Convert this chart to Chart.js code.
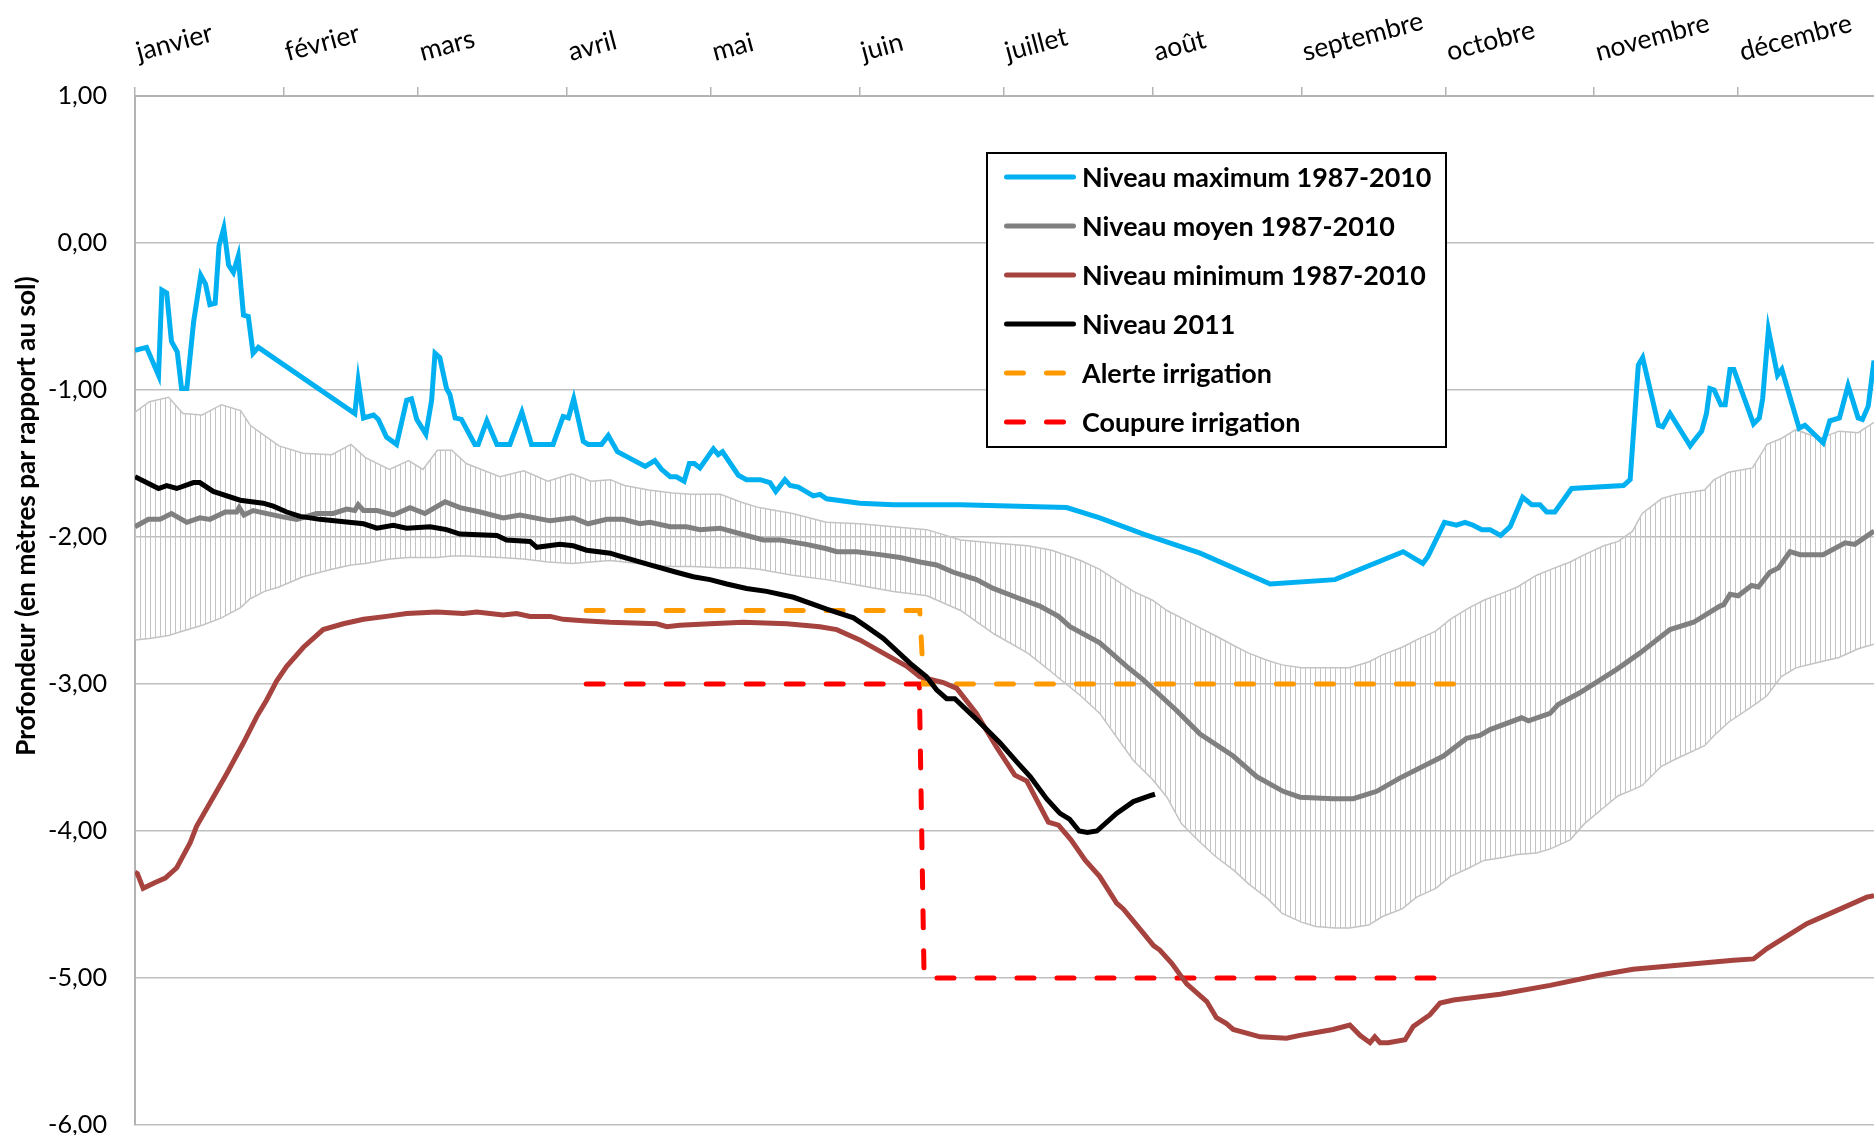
<!DOCTYPE html>
<html lang="fr">
<head>
<meta charset="utf-8">
<title>Niveau de la nappe 2011</title>
<script src="https://cdn.jsdelivr.net/npm/chart.js@4.4.1/dist/chart.umd.min.js"></script>
<style>
  html, body { margin: 0; padding: 0; background: #fff; overflow: hidden; }
  canvas { display: block; }
</style>
</head>
<body>
<canvas id="chart" width="1874" height="1135"></canvas>
<script>
const FONT = "Lato, 'Open Sans', sans-serif"

const MONTHS = ["janvier", "février", "mars", "avril", "mai", "juin",
  "juillet", "août", "septembre", "octobre", "novembre", "décembre"]
const MONTH_STARTS = [0, 31, 59, 90, 120, 151, 181, 212, 243, 273, 304, 334]
const Y_TICKS = [1, 0, -1, -2, -3, -4, -5, -6]
const Y_TITLE = "Profondeur (en mètres par rapport au sol)"

// day of year -> depth (m)
const maxDays = [0, 2.4, 4.9, 5.6, 6.6, 7.6, 8.8, 9.7, 10.8, 12.2, 13.7, 14.7, 15.6, 16.7, 17.5, 18.5,
  19.5, 20.5, 21.5, 22.6, 23.6, 24.6, 25.7, 45.8, 46.5, 47.6, 49.7, 50.7, 52.4, 54.5, 56.6, 57.6,
  58.7, 60.6, 61.8, 62.5, 63.5, 64.9, 65.6, 66.7, 68, 70.8, 71.5, 73.3, 75.4, 78.1, 80.6, 82.6,
  87.1, 89.2, 90.3, 91.4, 93.4, 94.4, 97.2, 98.6, 100.5, 106.3, 108.3, 109.7, 111.5, 112.8, 114.4,
  115.5, 116.5, 117.7, 120.5, 121.5, 122.4, 125.7, 127.4, 130.2, 132.3, 133.5, 135.4, 136.5, 138.2,
  141.3, 142.7, 144.1, 151, 158, 171.9, 194.1, 201, 210.1, 221.9, 236.5, 250, 264.2, 268.3, 269.4,
  272.8, 275.3, 277.1, 278.8, 280.6, 282.3, 284.5, 286.5, 289.1, 291, 292.7, 294.1, 295.8, 299.3,
  310.1, 311.5, 313.2, 314.1, 317.4, 318.3, 319.8, 324, 325.4, 326.4, 327.4, 328.1, 329, 330.4,
  331.3, 332.3, 333.1, 337.2, 338.4, 339.1, 340.3, 342.2, 343.1, 346.7, 347.9, 351.7, 353.1, 355.1,
  356.9, 359, 359.9, 361.1, 362.3]
const maxValues = [-0.73, -0.71, -0.90, -0.32, -0.34, -0.67, -0.74, -0.99, -0.99, -0.54, -0.22, -0.28, -0.42, -0.41, -0.02, 0.10,
  -0.15, -0.20, -0.09, -0.49, -0.50, -0.75, -0.71, -1.16, -0.94, -1.19, -1.17, -1.20, -1.32, -1.37, -1.07, -1.06,
  -1.20, -1.30, -1.07, -0.75, -0.78, -0.99, -1.03, -1.19, -1.20, -1.37, -1.37, -1.21, -1.37, -1.37, -1.15, -1.37,
  -1.37, -1.18, -1.19, -1.06, -1.35, -1.37, -1.37, -1.31, -1.42, -1.52, -1.48, -1.54, -1.59, -1.59, -1.62,
  -1.50, -1.50, -1.53, -1.40, -1.44, -1.42, -1.58, -1.61, -1.61, -1.63, -1.69, -1.61, -1.65, -1.66,
  -1.72, -1.71, -1.74, -1.77, -1.78, -1.78, -1.80, -1.87, -1.98, -2.11, -2.32, -2.29, -2.10, -2.18, -2.13,
  -1.90, -1.92, -1.90, -1.92, -1.95, -1.95, -1.99, -1.93, -1.73, -1.78, -1.78, -1.83, -1.83, -1.67,
  -1.65, -1.61, -0.83, -0.78, -1.24, -1.25, -1.16, -1.38, -1.32, -1.28, -1.16, -0.99, -1.00, -1.10,
  -1.10, -0.86, -0.86, -1.23, -1.19, -1.06, -0.59, -0.90, -0.86, -1.26, -1.24, -1.36, -1.21, -1.19,
  -0.97, -1.19, -1.20, -1.11, -0.80]

const meanDays = [0, 2.8, 5.2, 7.6, 10.8, 13.5, 15.6, 18.8, 21.2, 21.7, 22.7, 24.6, 30.2, 33.7, 37.8,
  41.3, 44.1, 45.8, 46.5, 47.6, 50.4, 53.8, 57.3, 60.4, 64.6, 67.7, 71.9, 76.7, 80.2, 86.5, 91.3,
  94.4, 98.3, 101.7, 105.2, 107.3, 111.5, 114.9, 117.7, 121.9, 127.4, 130.9, 134.4, 139.9, 144.1,
  146.2, 150.3, 155.2, 159.4, 163.5, 167, 170.5, 175.3, 178.8, 184.4, 188.5, 192.4, 194.8, 201,
  206.6, 210, 217, 221.9, 228.8, 233.7, 239.2, 242.7, 249.6, 253.8, 258.7, 263.5, 272.6, 277.4,
  280.2, 282.3, 288.9, 290.3, 294.8, 296.5, 301, 308.7, 313.5, 319.8, 324.7, 330.2, 331, 332.3, 334,
  336.8, 338.2, 340.6, 342.4, 344.8, 346.9, 351.7, 356.3, 358.3, 362.3]
const meanValues = [-1.93, -1.88, -1.88, -1.84, -1.90, -1.87, -1.88, -1.83, -1.83, -1.80, -1.85, -1.82, -1.86, -1.88, -1.84,
  -1.84, -1.81, -1.82, -1.78, -1.82, -1.82, -1.85, -1.80, -1.84, -1.76, -1.80, -1.83, -1.87, -1.85, -1.89, -1.87,
  -1.91, -1.88, -1.88, -1.91, -1.90, -1.93, -1.93, -1.95, -1.94, -1.99, -2.02, -2.02, -2.05, -2.08,
  -2.10, -2.10, -2.12, -2.14, -2.17, -2.19, -2.24, -2.29, -2.35, -2.42, -2.47, -2.54, -2.61, -2.72,
  -2.88, -2.97, -3.18, -3.34, -3.49, -3.63, -3.73, -3.77, -3.78, -3.78, -3.73, -3.64, -3.49, -3.37,
  -3.35, -3.31, -3.23, -3.25, -3.20, -3.14, -3.06, -2.90, -2.79, -2.63, -2.58, -2.47, -2.46, -2.39, -2.40,
  -2.33, -2.34, -2.24, -2.21, -2.10, -2.12, -2.12, -2.04, -2.05, -1.96]

const minDays = [0, 0.5, 1.7, 4.2, 6.3, 8.7, 11.5, 12.8, 16.3, 19.1, 22.6, 25.4, 27.4, 29.5, 31.6, 35.1,
  39.2, 43.4, 47.6, 52.4, 56.6, 62.9, 68.4, 71.2, 76.7, 79.5, 82.3, 86.5, 89.2, 93.4, 99, 108.7,
  110.8, 113.5, 119.8, 126.7, 135.8, 142.7, 146.2, 151, 155.9, 160.8, 163.5, 168.4, 171.2, 175.3,
  179.5, 183.3, 185.8, 190.3, 192.4, 195, 198, 201, 204.5, 205.9, 208.7, 212.2, 213.5, 216, 219.1,
  223.3, 225.3, 227.4, 228.8, 234.4, 239.9, 242.7, 249.6, 253.1, 255.2, 257.3, 258.3, 259.4, 261.1,
  264.6, 266.3, 269.8, 271.9, 274.7, 284.4, 294.8, 305.2, 312.1, 322.6, 333, 337.2, 340, 348.3,
  353.9, 360.8, 362.3]
const minValues = [-4.28, -4.29, -4.39, -4.35, -4.32, -4.25, -4.08, -3.97, -3.77, -3.61, -3.40, -3.22, -3.11, -2.98, -2.88, -2.75,
  -2.63, -2.59, -2.56, -2.54, -2.52, -2.51, -2.52, -2.51, -2.53, -2.52, -2.54, -2.54, -2.56, -2.57, -2.58, -2.59,
  -2.61, -2.60, -2.59, -2.58, -2.59, -2.61, -2.63, -2.70, -2.79, -2.88, -2.95, -2.99, -3.03, -3.20,
  -3.43, -3.62, -3.66, -3.94, -3.96, -4.06, -4.20, -4.31, -4.49, -4.53, -4.64, -4.78, -4.81, -4.90, -5.04,
  -5.16, -5.27, -5.31, -5.35, -5.40, -5.41, -5.39, -5.35, -5.32, -5.39, -5.44, -5.40, -5.44, -5.44,
  -5.42, -5.33, -5.25, -5.17, -5.15, -5.11, -5.05, -4.98, -4.94, -4.91, -4.88, -4.87, -4.80, -4.63,
  -4.55, -4.45, -4.44]

const y2011Days = [0, 4.9, 6.6, 8.7, 12.2, 13.5, 16.3, 21.9, 26.7, 28.8, 31.6, 34.4, 38.5, 47.6, 50.4,
  53.8, 56.6, 61.5, 64.9, 67.7, 75.4, 77.4, 82.3, 83.7, 88.5, 91.3, 94.1, 99, 101, 107.3, 112.8,
  116.3, 119.8, 123.3, 127.4, 131.6, 137.2, 144.1, 149.7, 152.4, 155.9, 161.5, 164.9, 167, 169.1,
  170.8, 175.3, 180.2, 183.7, 186.5, 189.9, 192.7, 194.7, 196.7, 198.4, 200.4, 204.5, 208, 211.5, 212.5]
const y2011Values = [-1.59, -1.67, -1.65, -1.67, -1.63, -1.63, -1.69, -1.75, -1.77, -1.79, -1.83, -1.86, -1.88, -1.91, -1.94,
  -1.92, -1.94, -1.93, -1.95, -1.98, -1.99, -2.02, -2.03, -2.07, -2.05, -2.06, -2.09, -2.11, -2.13, -2.19, -2.24,
  -2.27, -2.29, -2.32, -2.35, -2.37, -2.41, -2.49, -2.55, -2.61, -2.69, -2.86, -2.95, -3.04, -3.10,
  -3.10, -3.24, -3.40, -3.53, -3.63, -3.78, -3.88, -3.92, -4.00, -4.01, -4.00, -3.88, -3.80, -3.76, -3.75]

// error bars around the mean: top and bottom of each bar
const errDays = [0, 3, 7, 10, 14, 18, 22, 24, 27, 30, 35, 41, 45, 48, 53, 57, 60, 63, 66, 69, 76, 81,
  86, 91, 95, 99, 102, 107, 112, 116, 122, 126, 130, 137, 144, 151, 158, 165, 172, 179, 186, 191,
  197, 201, 208, 212, 215, 218, 222, 225, 229, 232, 236, 239, 243, 246, 250, 253, 257, 260, 264,
  267, 271, 274, 278, 281, 285, 288, 292, 295, 299, 302, 306, 309, 312, 314, 318, 321, 327, 329,
  332, 337, 340, 343, 346, 351, 355, 359, 362.3]
const errUpper = [-1.15, -1.08, -1.05, -1.16, -1.17, -1.10, -1.14, -1.24, -1.31, -1.38, -1.43, -1.44, -1.37, -1.46, -1.54, -1.48,
  -1.54, -1.41, -1.41, -1.50, -1.59, -1.55, -1.62, -1.57, -1.62, -1.61, -1.65, -1.68, -1.70, -1.71, -1.71, -1.76,
  -1.80, -1.84, -1.90, -1.91, -1.93, -1.95, -2.02, -2.04, -2.06, -2.09, -2.16, -2.22, -2.37, -2.43, -2.50,
  -2.55, -2.62, -2.67, -2.74, -2.79, -2.84, -2.87, -2.89, -2.89, -2.89, -2.89, -2.85, -2.80, -2.75, -2.70,
  -2.64, -2.56, -2.48, -2.43, -2.38, -2.34, -2.26, -2.22, -2.17, -2.12, -2.06, -2.03, -1.96, -1.84, -1.74,
  -1.71, -1.68, -1.61, -1.56, -1.53, -1.37, -1.33, -1.27, -1.33, -1.28, -1.29, -1.22]
const errLower = [-2.70, -2.69, -2.67, -2.64, -2.60, -2.55, -2.48, -2.42, -2.37, -2.34, -2.27, -2.22, -2.19, -2.18, -2.15, -2.14,
  -2.14, -2.14, -2.13, -2.13, -2.14, -2.15, -2.17, -2.18, -2.17, -2.16, -2.17, -2.19, -2.20, -2.20, -2.21, -2.21,
  -2.22, -2.26, -2.29, -2.33, -2.37, -2.40, -2.50, -2.66, -2.79, -2.92, -3.08, -3.20, -3.52, -3.65, -3.77,
  -3.95, -4.08, -4.17, -4.27, -4.36, -4.46, -4.56, -4.62, -4.65, -4.66, -4.66, -4.64, -4.58, -4.53, -4.45,
  -4.39, -4.31, -4.25, -4.20, -4.18, -4.16, -4.15, -4.12, -4.06, -3.95, -3.84, -3.76, -3.72, -3.69, -3.56,
  -3.51, -3.42, -3.35, -3.26, -3.15, -3.08, -2.95, -2.89, -2.85, -2.82, -2.76, -2.73]

const alertDays = [94, 163.5, 164.3, 275.6]
const alertValues = [-2.5, -2.5, -3.0, -3.0]
const cutDays = [94, 163.4, 164.4, 273.6]
const cutValues = [-3.0, -3.0, -5.0, -5.0]

const points = (days, values) => days.map((d, i) => ({ x: d, y: values[i] }))

const measureCtx = document.createElement("canvas").getContext("2d")
// font size that makes `text` as wide as it is in the picture
function fitSize(text, width, weight) {
  measureCtx.font = `${weight} 100px ${FONT}`
  return Math.round(1000 * width / measureCtx.measureText(text).width) / 10
}
const tickSize = fitSize("-6,00", 59, "normal")
const monthSize = fitSize("septembre", 124, "normal")
const legendSize = fitSize("Niveau maximum 1987-2010", 349, "bold")
const titleSize = fitSize(Y_TITLE, 480, "bold")

function stripes(color) {
  const c = document.createElement("canvas")
  c.width = 5
  c.height = 1
  const g = c.getContext("2d")
  g.fillStyle = color
  g.fillRect(0, 0, 1, 1)
  return g.createPattern(c, "repeat")
}

const decor = {
  id: "decor",
  afterDraw(chart) {
    const ctx = chart.ctx
    const area = chart.chartArea
    const xs = chart.scales.x

    // month labels, slanted above the top axis
    ctx.save()
    ctx.font = `normal ${monthSize}px ${FONT}`
    ctx.fillStyle = "#000"
    ctx.textAlign = "left"
    ctx.textBaseline = "alphabetic"
    MONTHS.forEach((m, i) => {
      ctx.save()
      ctx.translate(xs.getPixelForValue(MONTH_STARTS[i]) + 4, area.top - 35)
      ctx.rotate(-15 * Math.PI / 180)
      ctx.fillText(m, 0, 0)
      ctx.restore()
    })
    ctx.restore()

    // y axis title
    ctx.save()
    ctx.translate(27, 516)
    ctx.rotate(-Math.PI / 2)
    ctx.font = `bold ${titleSize}px ${FONT}`
    ctx.fillStyle = "#000"
    ctx.textAlign = "center"
    ctx.textBaseline = "middle"
    ctx.fillText(Y_TITLE, 0, 0)
    ctx.restore()

    // legend box
    const bx = 987, by = 153, bw = 459, bh = 294, row = 49
    ctx.save()
    ctx.fillStyle = "#fff"
    ctx.fillRect(bx, by, bw, bh)
    ctx.lineWidth = 2
    ctx.strokeStyle = "#000"
    ctx.strokeRect(bx, by, bw, bh)
    ctx.font = `bold ${legendSize}px ${FONT}`
    ctx.textBaseline = "middle"
    ctx.textAlign = "left"
    chart.data.datasets.filter((ds) => ds.label).forEach((ds, i) => {
      const y = by + 24 + i * row
      ctx.beginPath()
      ctx.lineWidth = 5
      ctx.lineCap = "round"
      ctx.strokeStyle = ds.borderColor
      ctx.setLineDash(ds.borderDash || [])
      ctx.moveTo(bx + 19.5, y)
      ctx.lineTo(bx + 86.5, y)
      ctx.stroke()
      ctx.setLineDash([])
      ctx.fillStyle = "#000"
      ctx.fillText(ds.label, bx + 95, y + 1)
    })
    ctx.restore()
  }
}

const line = (label, days, values, color, width, order, extra) => Object.assign({
  label: label,
  data: points(days, values),
  borderColor: color,
  borderWidth: width,
  pointRadius: 0,
  tension: 0,
  fill: false,
  order: order
}, extra || {})

const ctx = document.getElementById("chart").getContext("2d")
new Chart(ctx, {
  type: "line",
  data: {
    datasets: [
      line("Niveau maximum 1987-2010", maxDays, maxValues, "#00B0F0", 5, 4),
      line("Niveau moyen 1987-2010", meanDays, meanValues, "#808080", 5, 3),
      line("Niveau minimum 1987-2010", minDays, minValues, "#A6433F", 5, 2),
      line("Niveau 2011", y2011Days, y2011Values, "#000000", 5, 1),
      line("Alerte irrigation", alertDays, alertValues, "#FF9900", 5, 5,
        { borderDash: [17, 23], borderCapStyle: "round" }),
      line("Coupure irrigation", cutDays, cutValues, "#FF0000", 5, 6,
        { borderDash: [17, 23], borderCapStyle: "round" }),
      line("", errDays, errUpper, "#C4C4C4", 1.5, 7),
      line("", errDays, errLower, "#C4C4C4", 1.5, 8,
        { fill: "-1", backgroundColor: stripes("#C4C4C4") })
    ]
  },
  options: {
    responsive: false,
    animation: false,
    events: [],
    layout: { padding: { top: 87, right: 0, bottom: 10, left: 0 } },
    plugins: {
      legend: { display: false },
      tooltip: { enabled: false },
      filler: { propagate: false }
    },
    scales: {
      x: {
        type: "linear",
        position: "top",
        min: 0,
        max: 362.3,
        afterBuildTicks: (scale) => { scale.ticks = MONTH_STARTS.map((v) => ({ value: v })) },
        afterFit: (scale) => { scale.height = 9 },
        ticks: { display: false },
        grid: { drawOnChartArea: false, drawTicks: true, tickLength: 9, color: "#B3B3B3", lineWidth: 1.5 },
        border: { color: "#B3B3B3", width: 2 }
      },
      y: {
        min: -6,
        max: 1,
        afterBuildTicks: (scale) => { scale.ticks = Y_TICKS.map((v) => ({ value: v })) },
        afterFit: (scale) => {
          // the -6,00 label may run off the bottom, as in the original
          scale.width = 135
          scale.paddingTop = 0
          scale.paddingBottom = 0
        },
        ticks: {
          padding: 28,
          color: "#000",
          font: { family: FONT, size: tickSize },
          callback: (v) => v.toFixed(2).replace(".", ",")
        },
        grid: { drawTicks: false, color: "#BFBFBF", lineWidth: 1.5 },
        border: { color: "#B3B3B3", width: 2 }
      }
    }
  },
  plugins: [decor]
})
</script>
</body>
</html>
